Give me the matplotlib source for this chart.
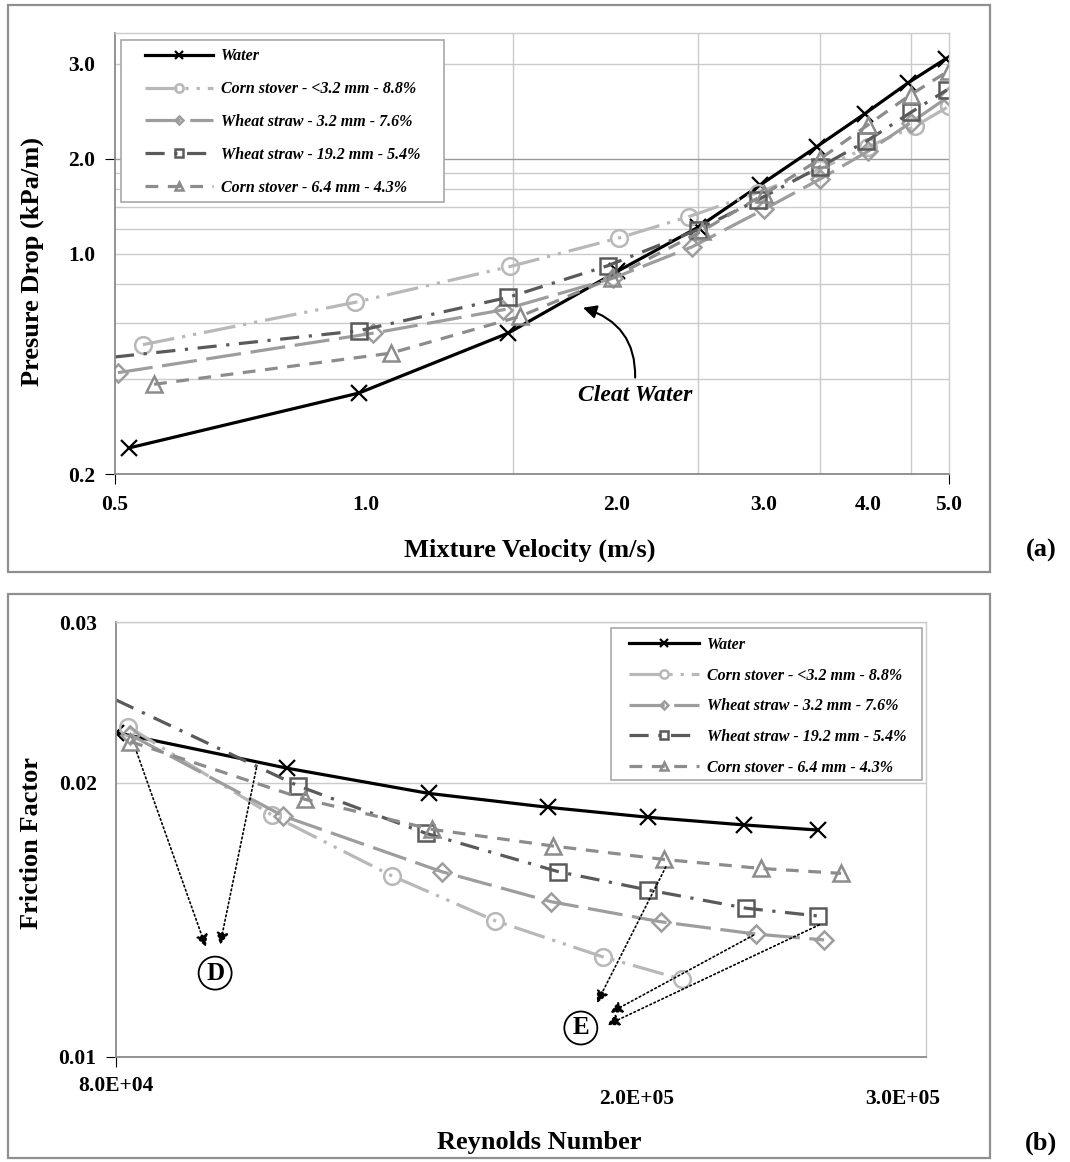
import numpy as np
import matplotlib
matplotlib.use("Agg")
import matplotlib.pyplot as plt
from matplotlib.patches import Rectangle
from matplotlib.ticker import FixedLocator, FixedFormatter, NullFormatter
from matplotlib.transforms import ScaledTranslation

plt.rcParams["font.family"] = ["Liberation Serif", "DejaVu Serif"]
plt.rcParams["font.weight"] = "bold"

W, H = 1070, 1162

SERIES = ["Water", "Corn stover - <3.2 mm - 8.8%", "Wheat straw - 3.2 mm - 7.6%",
          "Wheat straw - 19.2 mm - 5.4%", "Corn stover - 6.4 mm - 4.3%"]

# ---- (a) pressure drop (kPa/m) vs mixture velocity (m/s) ----
vel_water = [0.52, 0.98, 1.48, 2.00, 2.50, 2.97, 3.47, 3.96, 4.47, 4.96]
dp_water  = [0.242, 0.361, 0.559, 0.877, 1.21, 1.65, 2.18, 2.77, 3.48, 4.15]
vel_cs32  = [0.54, 0.97, 1.49, 2.01, 2.44, 2.95, 3.50, 4.00, 4.55, 5.00]
dp_cs32   = [0.514, 0.70, 0.91, 1.12, 1.31, 1.56, 1.85, 2.18, 2.53, 2.93]
vel_ws32  = [0.504, 1.02, 1.46, 1.98, 2.46, 3.00, 3.50, 4.00, 4.50, 5.00]
dp_ws32   = [0.419, 0.559, 0.663, 0.836, 1.05, 1.38, 1.72, 2.11, 2.60, 3.15]
vel_ws192 = [0.50, 0.98, 1.48, 1.95, 2.50, 2.95, 3.50, 3.98, 4.50, 4.97]
dp_ws192  = [0.47, 0.569, 0.726, 0.915, 1.19, 1.48, 1.88, 2.27, 2.80, 3.30]
vel_cs64  = [0.557, 1.07, 1.53, 1.97, 2.53, 3.00, 3.50, 4.00, 4.50, 5.00]
dp_cs64   = [0.385, 0.483, 0.632, 0.836, 1.18, 1.54, 1.99, 2.56, 3.19, 3.80]

# ---- (b) friction factor vs Reynolds number ----
re_water = [8.0e4, 1.074e5, 1.371e5, 1.683e5, 2.002e5, 2.36e5, 2.68e5]
f_water  = [0.02269, 0.02074, 0.01946, 0.01879, 0.01832, 0.01797, 0.01774]
re_cs32  = [8.17e4, 1.046e5, 1.287e5, 1.537e5, 1.85e5, 2.12e5]
f_cs32   = [0.02303, 0.01843, 0.01580, 0.01411, 0.01288, 0.01217]
re_ws32  = [8.2e4, 1.067e5, 1.402e5, 1.694e5, 2.046e5, 2.41e5, 2.71e5]
f_ws32   = [0.02256, 0.01838, 0.01597, 0.01480, 0.01407, 0.01364, 0.01344]
re_ws192 = [8.0e4, 1.095e5, 1.365e5, 1.714e5, 2.0e5, 2.37e5, 2.68e5]
f_ws192  = [0.02464, 0.01983, 0.01759, 0.01597, 0.01525, 0.01456, 0.01428]
re_cs64  = [8.2e4, 1.108e5, 1.379e5, 1.698e5, 2.056e5, 2.43e5, 2.79e5]
f_cs64   = [0.02218, 0.01917, 0.01777, 0.01704, 0.01647, 0.01610, 0.01590]

# line styles (Excel-like greys)
STYLES = [
    dict(color="black", ls="-", marker="x", ms=11, mew=1.6, lw=2.3),
    dict(color="#b8b8b8", dashes=(10, 2.5, 1, 2.5, 1, 2.5), marker="o", ms=12, mew=1.8, lw=2.3),
    dict(color="#9d9d9d", dashes=(11, 3), marker="D", ms=9, mew=1.8, lw=2.3),
    dict(color="#5a5a5a", dashes=(6, 3, 1, 3), marker="s", ms=11, mew=1.8, lw=2.3),
    dict(color="#8c8c8c", dashes=(4, 3), marker="^", ms=12, mew=1.8, lw=2.3),
]
GRID = "#cbcbcb"
SPINE = "#8a8a8a"
TICKFS = 15.5
LEGFS = 11.5


def px_axes(fig, l, t, r, b):
    return fig.add_axes([l / W, 1 - b / H, (r - l) / W, (b - t) / H])


def draw_series(ax, data):
    for (x, y), name, st in zip(data, SERIES, STYLES):
        st = dict(st)
        kw = dict(color=st.pop("color"), marker=st.pop("marker"), ms=st.pop("ms"),
                  mew=st.pop("mew"), lw=st.pop("lw"), mfc="none", label=name)
        if "dashes" in st:
            kw["dashes"] = st.pop("dashes")
        else:
            kw["ls"] = st.pop("ls")
        kw["mec"] = kw["color"]
        if name.startswith("Wheat straw - 19.2"):
            kw["markevery"] = list(range(1, len(x)))  # first point sits off the axis
        ax.plot(x, y, **kw)


def style_spines(ax):
    for s in ["left", "bottom"]:
        ax.spines[s].set_color(SPINE)
        ax.spines[s].set_linewidth(1.3)
    for s in ["top", "right"]:
        ax.spines[s].set_color(GRID)
        ax.spines[s].set_linewidth(1.0)


def add_legend(ax, box, first_top, handle_x, spacing, hlen):
    # Excel legend: framed box with a wide left margin before the handles
    l, t, r, b = box
    ax.add_patch(Rectangle((l / W, 1 - b / H), (r - l) / W, (b - t) / H,
                           transform=fig.transFigure, fc="white", ec="#a8a8a8",
                           lw=1.2, zorder=4.5, clip_on=False))
    leg = ax.legend(loc="upper left", bbox_to_anchor=(handle_x / W, 1 - first_top / H),
                    bbox_transform=fig.transFigure, borderaxespad=0, borderpad=0,
                    handlelength=hlen, handletextpad=0.5, labelspacing=spacing,
                    markerscale=0.5, frameon=False,
                    prop=dict(family="Liberation Serif", weight="bold", style="italic", size=LEGFS))
    leg.set_zorder(5)
    return leg


fig = plt.figure(figsize=(W / 100, H / 100), dpi=100)

# chart frames
for top, bot in [(5, 572), (594, 1158)]:
    fig.add_artist(Rectangle((8 / W, 1 - bot / H), (990 - 8) / W, (bot - top) / H,
                             transform=fig.transFigure, fill=False, ec="#8f8f8f", lw=1.6))

# ================= (a) =================
ax1 = px_axes(fig, 115, 33, 949, 474)
draw_series(ax1, [(vel_water, dp_water), (vel_cs32, dp_cs32), (vel_ws32, dp_ws32),
                  (vel_ws192, dp_ws192), (vel_cs64, dp_cs64)])
ax1.set_xscale("log")
ax1.set_yscale("log")
ax1.set_xlim(0.5, 5.0)
ax1.set_ylim(0.2, 5.0)

ax1.xaxis.set_major_locator(FixedLocator([0.5, 1.0, 2.0, 3.0, 4.0, 5.0]))
ax1.xaxis.set_major_formatter(FixedFormatter(["0.5", "1.0", "2.0", "3.0", "4.0", "5.0"]))
ax1.xaxis.set_minor_locator(FixedLocator(np.arange(0.5, 5.01, 0.5)))
ax1.xaxis.set_minor_formatter(NullFormatter())
ax1.yaxis.set_major_locator(FixedLocator([0.2, 1.0, 2.0, 4.0]))
ax1.yaxis.set_major_formatter(FixedFormatter(["0.2", "1.0", "2.0", "3.0"]))
ax1.yaxis.set_minor_locator(FixedLocator(np.arange(0.4, 1.81, 0.2)))
ax1.yaxis.set_minor_formatter(NullFormatter())
ax1.grid(which="minor", axis="x", color=GRID, lw=1.0)
ax1.grid(which="both", axis="y", color=GRID, lw=1.0)
ax1.set_axisbelow(True)
ax1.tick_params(which="both", length=0, labelsize=TICKFS)
ax1.tick_params(axis="x", pad=15)
ax1.tick_params(axis="y", pad=14)
ax1.yaxis.get_major_ticks()[2].gridline.set_color("#9a9a9a")
for t in [ax1.xaxis.get_major_ticks()[0], ax1.xaxis.get_major_ticks()[-1],
          ax1.yaxis.get_major_ticks()[0], ax1.yaxis.get_major_ticks()[2]]:
    t.tick1line.set_markersize(7)
    t.tick1line.set_color(SPINE)
style_spines(ax1)
add_legend(ax1, (121, 40, 444, 202), 48.5, 145, 1.05, 4.25)

ax1.annotate("Cleat Water", xy=(1.82, 0.673), xytext=(2.10, 0.356), textcoords="data",
             ha="center", va="center", fontsize=17, fontstyle="italic", fontweight="bold",
             arrowprops=dict(arrowstyle="-|>", color="black", lw=1.5, mutation_scale=20,
                             connectionstyle="arc3,rad=0.4", relpos=(0.5, 1.0),
                             shrinkA=3, shrinkB=0))

fig.text(530 / W, 1 - 550 / H, "Mixture Velocity (m/s)", ha="center", va="center",
         fontsize=19, fontweight="bold")
fig.text(32 / W, 1 - 262 / H, "Presure Drop (kPa/m)", ha="center", va="center",
         rotation=90, fontsize=19, fontweight="bold")
fig.text(1041 / W, 1 - 550 / H, "(a)", ha="center", va="center", fontsize=19, fontweight="bold")

# ================= (b) =================
ax2 = px_axes(fig, 116, 622, 926, 1057)
draw_series(ax2, [(re_water, f_water), (re_cs32, f_cs32), (re_ws32, f_ws32),
                  (re_ws192, f_ws192), (re_cs64, f_cs64)])
ax2.set_xscale("log")
ax2.set_yscale("log")
ax2.set_xlim(8.0e4, 3.23e5)
ax2.set_ylim(0.01, 0.03)

ax2.xaxis.set_major_locator(FixedLocator([8.0e4, 2.0e5, 3.0e5]))
ax2.xaxis.set_major_formatter(FixedFormatter(["8.0E+04", "2.0E+05", "3.0E+05"]))
ax2.xaxis.set_minor_locator(FixedLocator([2.0e5]))
ax2.xaxis.set_minor_formatter(NullFormatter())
ax2.yaxis.set_major_locator(FixedLocator([0.01, 0.02, 0.03]))
ax2.yaxis.set_major_formatter(FixedFormatter(["0.01", "0.02", "0.03"]))
ax2.yaxis.set_minor_locator(FixedLocator([]))
ax2.grid(which="minor", axis="x", color=GRID, lw=1.0)
ax2.grid(which="major", axis="y", color=GRID, lw=1.0)
ax2.set_axisbelow(True)
ax2.tick_params(which="both", length=0, labelsize=TICKFS)
ax2.tick_params(axis="x", pad=23)
ax2.tick_params(axis="y", pad=14)
for t in [ax2.xaxis.get_major_ticks()[0], ax2.yaxis.get_major_ticks()[0]]:
    t.tick1line.set_markersize(7)
    t.tick1line.set_color(SPINE)
style_spines(ax2)
add_legend(ax2, (611, 628, 922, 780), 637, 629, 0.92, 4.4)

# hand-placed axis labels in the original
xl = ax2.get_xticklabels()
shifts = [(0, 13), (-11, 0), (20, 0)]
for lab, (dx, dy) in zip(xl, shifts):
    lab.set_transform(lab.get_transform() + ScaledTranslation(dx / 100, dy / 100, fig.dpi_scale_trans))

# circled markers D and E with dotted arrows
circ = dict(boxstyle="circle,pad=0.2", fc="white", ec="black", lw=1.3)
ax2.text(9.49e4, 0.01236, "D", ha="center", va="center", fontsize=18, fontweight="bold", bbox=circ)
ax2.text(1.782e5, 0.01076, "E", ha="center", va="center", fontsize=18, fontweight="bold", bbox=circ)
arrows = [
    ((8.29e4, 0.0216), (9.34e4, 0.0132)),
    ((1.019e5, 0.02075), (9.57e4, 0.01327)),
    ((2.063e5, 0.01616), (1.832e5, 0.01146)),
    ((2.399e5, 0.0136), (1.874e5, 0.01118)),
    ((2.687e5, 0.01396), (1.864e5, 0.01084)),
]
for tail, head in arrows:
    ax2.annotate("", xy=head, xytext=tail, textcoords="data",
                 arrowprops=dict(arrowstyle="-|>", color="black", lw=1.2, ls=":",
                                 mutation_scale=18, shrinkA=0, shrinkB=0))

fig.text(539 / W, 1 - 1142 / H, "Reynolds Number", ha="center", va="center",
         fontsize=19, fontweight="bold")
fig.text(32 / W, 1 - 843 / H, "Friction Factor", ha="center", va="center",
         rotation=90, fontsize=19, fontweight="bold")
fig.text(1041 / W, 1 - 1143 / H, "(b)", ha="center", va="center", fontsize=19, fontweight="bold")

fig.savefig("out.png", dpi=100)
